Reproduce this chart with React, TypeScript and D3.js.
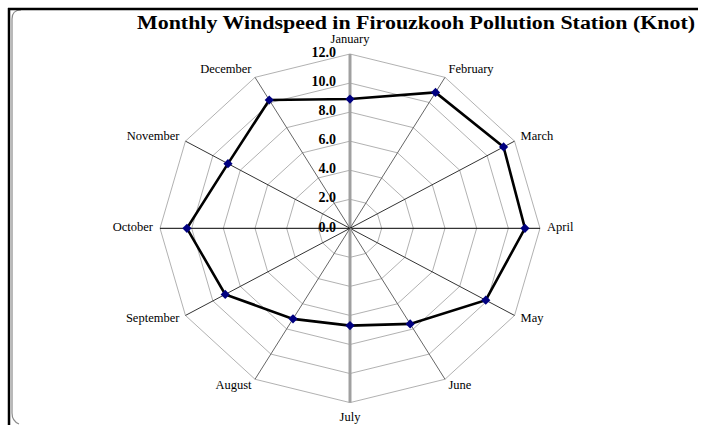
import * as d3 from 'd3'
import { useEffect, useRef } from 'react'

const months = ['January', 'February', 'March', 'April', 'May', 'June', 'July', 'August', 'September', 'October', 'November', 'December']
const windspeed = [8.9, 10.8, 11.2, 11.05, 9.9, 7.6, 6.7, 7.2, 9.1, 10.3, 8.9, 10.2]
const ticks = [0, 2, 4, 6, 8, 10, 12]
const title = 'Monthly Windspeed in Firouzkooh Pollution Station (Knot)'

export default function App(){
  const svgRef = useRef<SVGSVGElement|null>(null)
  const width = 701, height = 425

  useEffect(()=>{
    const svg = d3.select(svgRef.current)
    svg.selectAll('*').remove()

    const cx = 350, cy = 228.3
    // chart is a bit stretched horizontally
    const rx = d3.scaleLinear().domain([0, 12]).range([0, 190])
    const ry = d3.scaleLinear().domain([0, 12]).range([0, 174.3])
    const ang = d3.scaleLinear().domain([0, months.length]).range([0, 2 * Math.PI])
    const px = (i: number, v: number)=> cx + rx(v) * Math.sin(ang(i))
    const py = (i: number, v: number)=> cy - ry(v) * Math.cos(ang(i))

    // frame
    svg.append('path').attr('d', 'M 21,10 Q 12,10 12,19 L 12,413 Q 12,421 19,424')
      .attr('fill', 'none').attr('stroke', '#8a8a8a').attr('stroke-width', 1.2)
    svg.append('line').attr('x1', 8).attr('x2', 698).attr('y1', 9).attr('y2', 9).attr('stroke', '#000').attr('stroke-width', 2.5)
    svg.append('line').attr('x1', 9).attr('x2', 9).attr('y1', 8).attr('y2', 425).attr('stroke', '#000').attr('stroke-width', 2.5)

    const g = svg.append('g')

    // rings
    ticks.filter(t=>t>0).forEach(t=>{
      const pts: [number, number][] = months.map((_, i)=> [px(i, t), py(i, t)])
      g.append('path')
        .attr('d', d3.line().curve(d3.curveLinearClosed)(pts))
        .attr('fill', 'none').attr('stroke', '#a8a8a8').attr('stroke-width', 0.9)
    })

    // spokes
    months.forEach((_, i)=>{
      const k = i % 6
      const color = k === 0 ? '#a0a0a0' : k === 3 ? '#000' : (k === 1 || k === 5) ? '#666' : '#333'
      g.append('line')
        .attr('x1', cx).attr('y1', cy)
        .attr('x2', px(i, 12)).attr('y2', py(i, 12))
        .attr('stroke', color).attr('stroke-width', k === 0 ? 3 : 1)
    })

    // tick labels
    g.selectAll('text.tick').data(ticks).join('text')
      .attr('x', cx - 14).attr('y', (t: number)=> cy - ry(t))
      .attr('text-anchor', 'end').attr('dominant-baseline', 'middle')
      .attr('font-family', 'Liberation Serif, Times New Roman, serif')
      .attr('font-weight', 'bold').attr('font-size', 14).attr('fill', '#000')
      .text((t: number)=> t.toFixed(1))

    // month labels
    months.forEach((m, i)=>{
      const s = Math.sin(ang(i)), c = Math.cos(ang(i))
      const anchor = Math.abs(s) < 0.01 ? 'middle' : s > 0 ? 'start' : 'end'
      const k = c > 0.99 ? 13.5 : c < -0.99 ? 15.5 : 8
      g.append('text')
        .attr('x', px(i, 12) + 7 * s).attr('y', py(i, 12) - c * k)
        .attr('text-anchor', anchor).attr('dominant-baseline', 'middle')
        .attr('font-family', 'Liberation Serif, Times New Roman, serif')
        .attr('font-size', 12.5).attr('fill', '#000')
        .text(m)
    })

    // series
    const line = d3.line<number>()
      .x((v, i)=> px(i, v)).y((v, i)=> py(i, v))
      .curve(d3.curveLinearClosed)
    g.append('path').attr('d', line(windspeed))
      .attr('fill', 'none').attr('stroke', '#000').attr('stroke-width', 2.6)

    g.selectAll('path.marker').data(windspeed).join('path')
      .attr('transform', (v: number, i: number)=> `translate(${px(i, v)},${py(i, v)})`)
      .attr('d', 'M0,-4.6 L4.6,0 L0,4.6 L-4.6,0 Z')
      .attr('fill', '#000080')

    svg.append('text')
      .attr('x', 137).attr('y', 29)
      .attr('font-family', 'Liberation Serif, Times New Roman, serif')
      .attr('font-weight', 'bold').attr('font-size', 18.5)
      .attr('textLength', 558).attr('lengthAdjust', 'spacingAndGlyphs')
      .text(title)
  }, [])

  return (
    <svg ref={svgRef} width={width} height={height} style={{ position: 'absolute', left: 0, top: 0, background: '#fff' }}></svg>
  )
}
